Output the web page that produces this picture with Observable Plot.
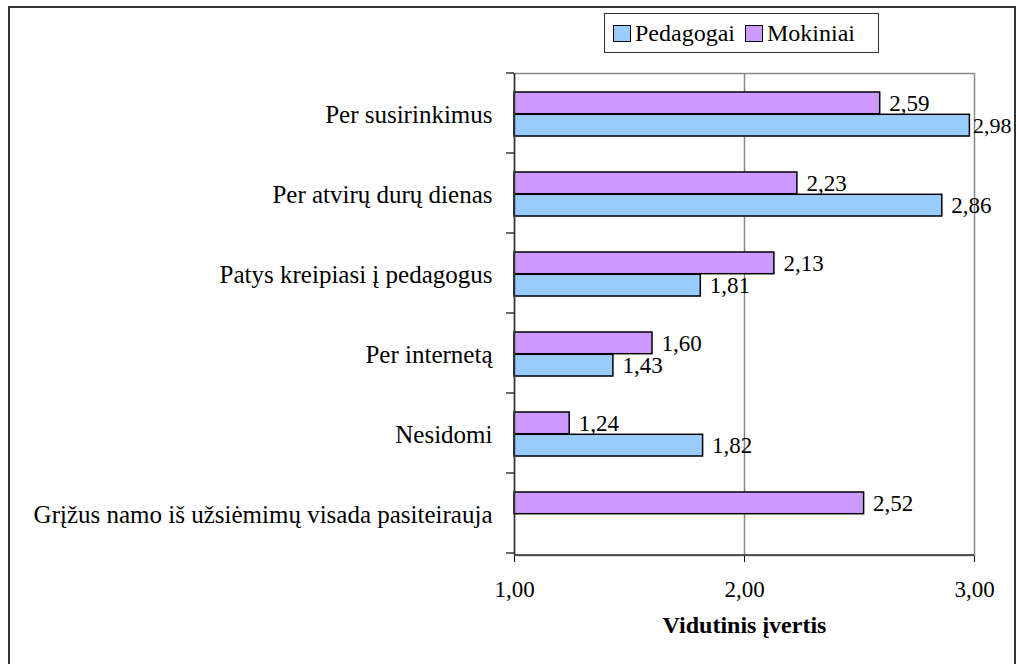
<!DOCTYPE html>
<html><head><meta charset="utf-8">
<script src="https://cdn.jsdelivr.net/npm/d3@7"></script>
<script src="https://cdn.jsdelivr.net/npm/@observablehq/plot@0.6"></script>
<style>
html,body{margin:0;padding:0;background:#fff;overflow:hidden;width:1016px;height:664px;}
#frame{position:absolute;left:8px;top:6px;width:1008px;height:700px;border:2px solid #333;box-sizing:border-box;z-index:10;pointer-events:none;background:transparent;}
#legend{position:absolute;left:604px;top:13px;width:275px;height:40px;border:1.5px solid #333;box-sizing:border-box;display:flex;align-items:center;font-family:"Liberation Serif",serif;font-size:24px;color:#000;padding-left:8px;z-index:5;background:#fff;}
.sw{display:inline-block;width:18px;height:17px;border:1.5px solid #000;box-sizing:border-box;margin-right:4px;}
#chart{position:absolute;left:0;top:60px;}
</style></head>
<body>
<div id="frame"></div>
<div id="legend"></div>
<div id="chart"></div>
<script>
const categories = ["Per susirinkimus","Per atvirų durų dienas","Patys kreipiasi į pedagogus","Per internetą","Nesidomi","Grįžus namo iš užsiėmimų visada pasiteirauja"];
const pedagogai = [2.98, 2.86, 1.81, 1.43, 1.82, null];
const mokiniai = [2.59, 2.23, 2.13, 1.60, 1.24, 2.52];
const seriesNames = ["Pedagogai", "Mokiniai"];
const seriesColors = ["#99CCFF", "#CC99FF"];
const xTicks = [1, 2, 3];
const xTickLabels = ["1,00", "2,00", "3,00"];
const xTitle = "Vidutinis įvertis";

// legend
const legend = document.getElementById("legend");
seriesNames.forEach((s, i) => {
  const sw = document.createElement("span");
  sw.className = "sw"; sw.style.background = seriesColors[i];
  if (i > 0) sw.style.marginLeft = "10px";
  legend.appendChild(sw);
  const t = document.createElement("span");
  t.textContent = s;
  legend.appendChild(t);
});

const fmt = v => v.toFixed(2).replace(".", ",");
const mokRows = categories.map((c, i) => ({category: c, value: mokiniai[i]})).filter(d => d.value != null);
const pedRows = categories.map((c, i) => ({category: c, value: pedagogai[i]})).filter(d => d.value != null);
const xMax = xTicks[xTicks.length - 1];
const nearEdge = d => d.value > xMax - 0.05;   // labels that would run past the frame sit closer to their bar

const W = 1016, H = 604;
const mTop = 13, mBottom = 109, mLeft = 514, mRight = 42;
const plotH = H - mTop - mBottom;
const pad = 0.445;
const step = plotH / categories.length;
const half = step * (1 - pad) / 2;
const valueFont = 23;

const plot = Plot.plot({
  width: W, height: H,
  marginTop: mTop, marginBottom: mBottom, marginLeft: mLeft, marginRight: mRight,
  style: {fontFamily: "'Liberation Serif', serif", fontSize: "25px", color: "#000", background: "white"},
  x: {domain: [xTicks[0], xMax], ticks: xTicks, tickFormat: (d) => xTickLabels[xTicks.indexOf(d)], tickSize: 7, tickPadding: 18, label: null},
  y: {domain: categories, paddingInner: pad, paddingOuter: pad / 2, tickSize: 0, tickPadding: 22, label: null},
  marks: [
    Plot.frame({stroke: "#888", strokeWidth: 1.5}),
    Plot.ruleX([xTicks[1]], {stroke: "#888", strokeWidth: 1.5}),
    Plot.barX(mokRows, {y: "category", x1: () => xTicks[0], x2: "value", fill: seriesColors[1], stroke: "#000", strokeWidth: 1.5, insetBottom: half}),
    Plot.barX(pedRows, {y: "category", x1: () => xTicks[0], x2: "value", fill: seriesColors[0], stroke: "#000", strokeWidth: 1.5, insetTop: half}),
    Plot.ruleX([xTicks[0]], {stroke: "#333", strokeWidth: 1.5}),
    Plot.text(mokRows, {y: "category", x: "value", text: d => fmt(d.value), dy: -half / 2, dx: 9, textAnchor: "start", fontSize: valueFont, fill: "#000"}),
    Plot.text(pedRows.filter(d => !nearEdge(d)), {y: "category", x: "value", text: d => fmt(d.value), dy: half / 2, dx: 9, textAnchor: "start", fontSize: valueFont, fill: "#000"}),
    Plot.text(pedRows.filter(nearEdge), {y: "category", x: "value", text: d => fmt(d.value), dy: half / 2, dx: 3, textAnchor: "start", fontSize: valueFont - 1, fill: "#000"}),
    Plot.text([xTitle], {frameAnchor: "bottom", dy: 77, text: d => d, fontWeight: "bold", fontSize: 24, fill: "#000"})
  ]
});

// category separator ticks and dark bottom axis line, placed from the plot's own scales
const xs = plot.scale("x"), ys = plot.scale("y");
const svg = d3.select(plot);
svg.selectAll("g[aria-label='x-axis tick label'] text, g[aria-label='x-axis tick label']").attr("font-size", 23);
const [y0, y1] = ys.range;
const st = ys.step;
const g = svg.append("g").attr("stroke", "#333").attr("stroke-width", 1.5);
for (let i = 0; i <= categories.length; i++) {
  const yy = Math.min(y0, y1) + i * st;
  g.append("line").attr("x1", xs.range[0] - 8).attr("x2", xs.range[0]).attr("y1", yy).attr("y2", yy);
}
g.append("line").attr("x1", xs.range[0]).attr("x2", xs.range[1]).attr("y1", Math.max(y0, y1)).attr("y2", Math.max(y0, y1));

document.getElementById("chart").appendChild(plot);
</script>
</body></html>
